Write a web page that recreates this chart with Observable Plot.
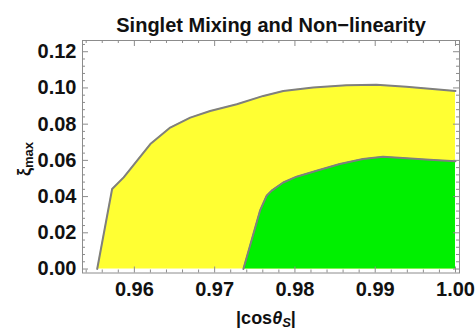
<!DOCTYPE html>
<html>
<head>
<meta charset="utf-8">
<script src="https://cdn.jsdelivr.net/npm/d3@7"></script>
<script src="https://cdn.jsdelivr.net/npm/@observablehq/plot@0.6"></script>
<style>
  html, body { margin: 0; padding: 0; background: #fff; }
  svg { display: block; }
</style>
</head>
<body>
<div id="chart"></div>
<script>
// Outer (yellow) boundary: |cos θS| vs ξmax
const yellowX = [0.95537, 0.95723, 0.95867, 0.96034, 0.96199, 0.96447, 0.96696, 0.96944, 0.97276, 0.97606, 0.97855, 0.98227, 0.98642, 0.99015, 0.99388, 0.99677, 1.00000];
const yellowY = [0.0000, 0.0442, 0.0506, 0.0598, 0.0690, 0.0781, 0.0836, 0.0873, 0.0910, 0.0956, 0.0983, 0.1002, 0.1015, 0.1017, 0.1007, 0.0996, 0.0983];
// Inner (green) boundary
const greenX = [0.97358, 0.97565, 0.97648, 0.97711, 0.97855, 0.98021, 0.98270, 0.98559, 0.98848, 0.99097, 0.99345, 0.99677, 1.00000];
const greenY = [0.0000, 0.0322, 0.0405, 0.0433, 0.0478, 0.0510, 0.0543, 0.0580, 0.0608, 0.0620, 0.0613, 0.0604, 0.0595];

const xMajor = [0.96, 0.97, 0.98, 0.99, 1.00];
const xMinor = [0.954, 0.956, 0.958, 0.962, 0.964, 0.966, 0.968, 0.972, 0.974, 0.976, 0.978, 0.982, 0.984, 0.986, 0.988, 0.992, 0.994, 0.996, 0.998];
const yMajor = [0.00, 0.02, 0.04, 0.06, 0.08, 0.10, 0.12];
const yMinor = [0.004, 0.008, 0.012, 0.016, 0.024, 0.028, 0.032, 0.036, 0.044, 0.048, 0.052, 0.056, 0.064, 0.068, 0.072, 0.076, 0.084, 0.088, 0.092, 0.096, 0.104, 0.108, 0.112, 0.116, 0.124];

const title = "Singlet Mixing and Non\u2212linearity";

const yellow = yellowX.map((x, i) => ({x, y: yellowY[i]}));
const green = greenX.map((x, i) => ({x, y: greenY[i]}));

const FONT = "'Liberation Sans', Arial, sans-serif";
const frameColor = "#8c8c8c";

const W = 475, H = 331, ML = 82, MR = 16, MT = 40, MB = 58.5;
const fw = W - ML - MR, fh = H - MT - MB;

const chart = Plot.plot({
  width: W,
  height: H,
  marginLeft: ML,
  marginRight: MR,
  marginTop: MT,
  marginBottom: MB,
  style: {fontFamily: FONT, background: "#fff", overflow: "visible"},
  x: {domain: [0.95354, 1.0005]},
  y: {domain: [-0.0022, 0.1262]},
  marks: [
    Plot.areaY(yellow, {x: "x", y: "y", y1: 0, fill: "#ffff33"}),
    Plot.line(yellow, {x: "x", y: "y", stroke: "#7f7f7f", strokeWidth: 2}),
    Plot.areaY(green, {x: "x", y: "y", y1: 0, fill: "#00f000"}),
    Plot.line(green, {x: "x", y: "y", stroke: "#7f7f7f", strokeWidth: 2}),
    Plot.frame({stroke: frameColor, strokeWidth: 1}),
    // inward ticks on all four sides
    Plot.tickX(xMajor, {x: d => d, stroke: frameColor, insetTop: fh - 6}),
    Plot.tickX(xMinor, {x: d => d, stroke: frameColor, insetTop: fh - 3}),
    Plot.tickX(xMajor, {x: d => d, stroke: frameColor, insetBottom: fh - 6}),
    Plot.tickX(xMinor, {x: d => d, stroke: frameColor, insetBottom: fh - 3}),
    Plot.tickY(yMajor, {y: d => d, stroke: frameColor, insetRight: fw - 6}),
    Plot.tickY(yMinor, {y: d => d, stroke: frameColor, insetRight: fw - 3}),
    Plot.tickY(yMajor, {y: d => d, stroke: frameColor, insetLeft: fw - 6}),
    Plot.tickY(yMinor, {y: d => d, stroke: frameColor, insetLeft: fw - 3}),
    // tick labels
    Plot.axisX(xMajor, {anchor: "bottom", tickSize: 0, tickPadding: 9, tickFormat: d3.format(".2f"), fontSize: 20, fontWeight: "bold", fill: "#111", label: null}),
    Plot.axisY(yMajor, {anchor: "left", tickSize: 0, tickPadding: 6, tickFormat: d3.format(".2f"), fontSize: 20, fontWeight: "bold", fill: "#111", label: null}),
    Plot.text([title], {frameAnchor: "top", lineAnchor: "bottom", dy: -9, fontSize: 20, fontWeight: "bold", fill: "#111"})
  ]
});

const svg = d3.select(chart);
// x-axis label |cos θS|
const xl = svg.append("text")
  .attr("x", 266).attr("y", 324)
  .attr("text-anchor", "middle")
  .attr("font-family", FONT).attr("font-size", 18).attr("font-weight", "bold").attr("fill", "#111");
xl.append("tspan").text("|cos");
xl.append("tspan").attr("font-style", "italic").text("\u03b8");
xl.append("tspan").attr("font-style", "italic").attr("font-size", 13).attr("dy", 3).text("S");
xl.append("tspan").attr("dy", -3).text("|");

// y-axis label ξmax
const yl = svg.append("text")
  .attr("transform", "translate(30,159) rotate(-90)")
  .attr("text-anchor", "middle")
  .attr("font-family", FONT).attr("font-size", 18).attr("font-weight", "bold").attr("fill", "#111");
yl.append("tspan").text("\u03be");
yl.append("tspan").attr("font-size", 13).attr("dy", 3).text("max");

document.getElementById("chart").appendChild(chart);
</script>
</body>
</html>
